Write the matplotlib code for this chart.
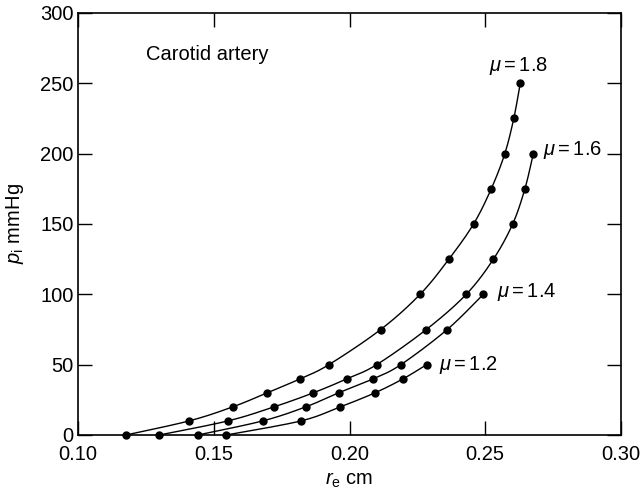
import numpy as np
import matplotlib
matplotlib.use("Agg")
import matplotlib.pyplot as plt

plt.rcParams['font.family'] = ['Liberation Sans', 'DejaVu Sans']
plt.rcParams['mathtext.fontset'] = 'custom'
plt.rcParams['mathtext.rm'] = 'Liberation Sans'
plt.rcParams['mathtext.it'] = 'Liberation Sans:italic'
plt.rcParams['mathtext.bf'] = 'Liberation Sans:bold'

# ---- data ----
p_18 = [0, 10, 20, 30, 40, 50, 75, 100, 125, 150, 175, 200, 225, 250]
r_18 = [0.1176, 0.1409, 0.1570, 0.1697, 0.1819, 0.1924, 0.2115, 0.2260,
        0.2366, 0.2457, 0.2522, 0.2572, 0.2605, 0.2629]

p_16 = [0, 10, 20, 30, 40, 50, 75, 100, 125, 150, 175, 200]
r_16 = [0.1299, 0.1552, 0.1722, 0.1867, 0.1991, 0.2100, 0.2283, 0.2430,
        0.2530, 0.2601, 0.2646, 0.2677]

p_14 = [0, 10, 20, 30, 40, 50, 75, 100]
r_14 = [0.1441, 0.1680, 0.1839, 0.1960, 0.2088, 0.2189, 0.2360, 0.2493]

p_12 = [0, 10, 20, 30, 40, 50]
r_12 = [0.1546, 0.1821, 0.1966, 0.2094, 0.2198, 0.2284]

series = [(r_18, p_18, "1.8"), (r_16, p_16, "1.6"),
          (r_14, p_14, "1.4"), (r_12, p_12, "1.2")]

x_ticks = [0.10, 0.15, 0.20, 0.25, 0.30]
x_tick_labels = ["0.10", "0.15", "0.20", "0.25", "0.30"]
y_ticks = [0, 50, 100, 150, 200, 250, 300]


def catmull_rom(ax, xs, ys, n=30):
    # smooth drawing path through the data points (in display space)
    pts = ax.transData.transform(np.column_stack([xs, ys]))
    P = np.vstack([pts[0], pts, pts[-1]])
    out = []
    for i in range(1, len(P) - 2):
        p0, p1, p2, p3 = P[i - 1], P[i], P[i + 1], P[i + 2]
        t = np.linspace(0, 1, n, endpoint=False)[:, None]
        seg = 0.5 * ((2 * p1) + (-p0 + p2) * t +
                     (2 * p0 - 5 * p1 + 4 * p2 - p3) * t ** 2 +
                     (-p0 + 3 * p1 - 3 * p2 + p3) * t ** 3)
        out.append(seg)
    out.append(P[-2][None, :])
    path = np.vstack(out)
    return ax.transData.inverted().transform(path)


fig = plt.figure(figsize=(6.43, 4.96), dpi=100)
ax = fig.add_axes([78 / 643, 61 / 496, (621 - 78) / 643, (435 - 13) / 496])
ax.set_xlim(0.10, 0.30)
ax.set_ylim(0, 300)

for xs, ys, lab in series:
    curve = catmull_rom(ax, xs, ys)
    ax.plot(curve[:, 0], curve[:, 1], color='black', lw=1.0, clip_on=False)
    ax.plot(xs, ys, 'o', color='black', ms=5, clip_on=False, zorder=3)

fs = 14.5
ax.text(0.2624, 262, r'$\mu = 1.8$', fontsize=fs, ha='center', va='center')
ax.text(0.2713, 202.6, r'$\mu = 1.6$', fontsize=fs, ha='left', va='center')
ax.text(0.2542, 101.8, r'$\mu = 1.4$', fontsize=fs, ha='left', va='center')
ax.text(0.2331, 49.8, r'$\mu = 1.2$', fontsize=fs, ha='left', va='center')
ax.text(0.1249, 270.8, 'Carotid artery', fontsize=fs, ha='left', va='center')

ax.set_xticks(x_ticks)
ax.set_xticklabels(x_tick_labels)
ax.set_yticks(y_ticks)
ax.tick_params(direction='in', length=10, width=1.0, labelsize=fs,
               top=True, right=True, color='black')
ax.tick_params(axis='x', pad=7)
ax.tick_params(axis='y', pad=3)
for s in ax.spines.values():
    s.set_linewidth(1.2)
    s.set_color('black')

ax.set_xlabel(r'$r_{\mathrm{e}}$ cm', fontsize=fs, labelpad=5)
ax.set_ylabel(r'$p_{\mathrm{i}}$ mmHg', fontsize=fs, labelpad=10)

fig.savefig('out.png', dpi=100)
